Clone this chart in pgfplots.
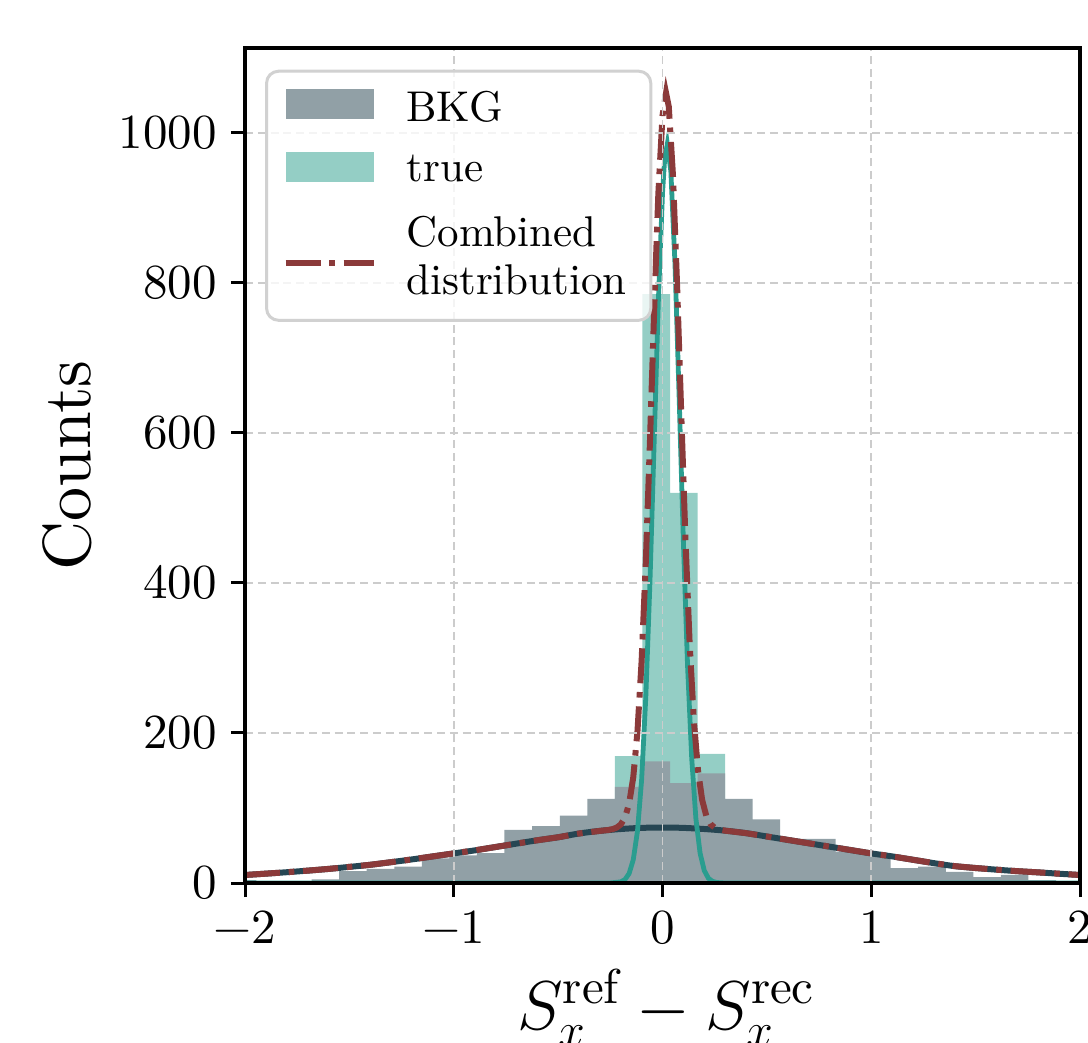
\documentclass[border=0pt]{standalone}
\usepackage{fontspec}
\setmainfont{lmroman10-regular}[Extension=.otf, BoldFont=lmroman10-bold, ItalicFont=lmroman10-italic]
\usepackage{pgfplots}
\pgfplotsset{compat=1.18}
\definecolor{bkg}{RGB}{145,160,166}
\definecolor{truebar}{RGB}{148,206,197}
\definecolor{tealline}{RGB}{42,157,143}
\definecolor{darkline}{RGB}{38,70,83}
\definecolor{redline}{RGB}{139,58,58}
\begin{document}
\begin{tikzpicture}
\begin{axis}[
  name=ax,
  width=208.75pt, height=208.75pt, scale only axis,
  xmin=-2, xmax=2, ymin=0, ymax=1113,
  xtick={-2,-1,0,1,2}, ytick={0,200,400,600,800,1000},
  xticklabels={−2,−1,0,1,2},
  yticklabels={0,200,400,600,800,1000},
  xtick pos=bottom, ytick pos=left,
  tick align=outside, major tick length=3.5pt,
  tick style={black, line width=0.75pt},
  axis line style={line width=0.9pt},
  grid=major,
  major grid style={dashed, dash pattern=on 2pt off 1.2pt, gray!40, line width=0.4pt},
  axis on top,
  ticklabel style={font=\fontsize{12.25}{14}\selectfont},
  xlabel={$S_x^{\mathrm{ref}} - S_x^{\mathrm{rec}}$},
  ylabel={Counts},
  every axis x label/.style={at={(axis description cs:0.5,0)}, anchor=base, yshift=-36.5pt, xshift=1pt, font=\fontsize{17.5}{20}\selectfont},
  every axis y label/.style={at={(axis description cs:-0.2132,0.5)}, anchor=center, rotate=90, font=\fontsize{17}{20}\selectfont},
  legend style={at={(axis description cs:0.024,0.974)}, anchor=north west,
    draw=black!18, line width=0.75pt, rounded corners=3pt,
    fill=white, fill opacity=0.8, text opacity=1, draw opacity=1,
    font=\fontsize{10.75}{11.5}\selectfont,
    cells={anchor=west, align=left},
    row sep=3pt, column sep=5.5pt, inner xsep=4pt, inner ysep=3pt},
  legend cell align=left,
]
% true histogram (drawn first)
\addplot[ybar interval, fill=truebar, draw=none, forget plot] coordinates {
(-0.360,40) (-0.228,169) (-0.096,785) (0.036,520) (0.168,172) (0.300,40) (0.432,40)
};
% BKG histogram
\addplot[ybar interval, fill=bkg, draw=none, forget plot] coordinates {
(-2.078,4) (-1.946,1) (-1.813,1) (-1.681,5) (-1.549,16) (-1.417,19) (-1.285,22)
(-1.153,33) (-1.021,37) (-0.889,40) (-0.757,71) (-0.624,76) (-0.492,90)
(-0.360,112) (-0.228,128) (-0.096,162) (0.036,133) (0.168,146) (0.300,112)
(0.432,85) (0.564,59) (0.697,59) (0.829,42) (0.961,38) (1.093,20) (1.225,22)
(1.357,15) (1.489,8) (1.621,11) (1.753,4) (1.885,2) (2.018,2)
};
% background fit
\addplot[darkline, line width=1.5pt, smooth, forget plot] coordinates {
(-2,10.7)(-1.9,12.5)(-1.8,14.4)(-1.7,16.5)(-1.6,18.8)(-1.5,21.5)(-1.4,24.3)(-1.3,27.8)
(-1.2,31.5)(-1.1,35.5)(-1.0,39.5)(-0.9,43.5)(-0.8,48)(-0.7,52.5)(-0.6,57)(-0.5,61)
(-0.4,66)(-0.3,69.5)(-0.2,72)(-0.1,73.5)(0,74)(0.1,73.5)(0.2,72)(0.3,69.8)(0.4,66.5)
(0.5,62)(0.6,57.5)(0.7,53)(0.8,48.5)(0.9,44)(1.0,39.5)(1.1,35.5)(1.2,31)(1.3,26.5)
(1.4,22.5)(1.5,20)(1.6,17.8)(1.7,15.8)(1.8,14.2)(1.9,12.4)(2.0,10.7)
};
% true fit
\addplot[tealline, line width=1.2pt, forget plot] coordinates {
(-2,0)(-0.3,0)(-0.25,0.1)(-0.2,1.5)(-0.18,4.6)(-0.16,12.6)(-0.14,31.1)(-0.12,68.9)
(-0.10,137.6)(-0.08,247.8)(-0.06,402.1)(-0.04,587.7)(-0.02,774.5)(0,919.5)(0.01,963.6)
(0.023,985)(0.04,948.7)(0.06,824.3)(0.08,645.5)(0.10,455.6)(0.12,289.7)(0.14,166.0)
(0.16,85.8)(0.18,39.9)(0.20,16.7)(0.22,6.3)(0.24,2.2)(0.26,0.7)(0.3,0)(2,0)
};
% combined
\addplot[redline, line width=1.5pt, dash pattern=on 8.75pt off 2.2pt on 1.4pt off 2.2pt, forget plot] coordinates {
(-2,10.7)(-1.9,12.5)(-1.8,14.4)(-1.7,16.5)(-1.6,18.8)(-1.5,21.5)(-1.4,24.3)(-1.3,27.8)
(-1.2,31.5)(-1.1,35.5)(-1.0,39.5)(-0.9,43.5)(-0.8,48)(-0.7,52.5)(-0.6,57)(-0.5,61)
(-0.4,66)(-0.3,69.5)(-0.26,70.7)(-0.24,71.8)(-0.22,73.8)(-0.20,78.0)(-0.18,87.0)
(-0.16,105.7)(-0.14,141.0)(-0.12,201.8)(-0.10,296.3)(-0.08,427.5)(-0.06,589.3)
(-0.04,762.8)(-0.02,918.2)(0,1022.9)(0.017,1053)(0.03,1035.2)(0.05,944.0)(0.07,796.2)
(0.09,623.7)(0.11,457.7)(0.13,319.2)(0.15,217.4)(0.17,150.2)(0.19,110.7)(0.21,89.3)
(0.23,78.5)(0.25,73.7)(0.27,71.4)(0.3,69.8)(0.4,66.5)(0.5,62)(0.6,57.5)(0.7,53)
(0.8,48.5)(0.9,44)(1.0,39.5)(1.1,35.5)(1.2,31)(1.3,26.5)(1.4,22.5)(1.5,20)(1.6,17.8)
(1.7,15.8)(1.8,14.2)(1.9,12.4)(2.0,10.7)
};
\addlegendimage{legend image code/.code={\fill[bkg, fill opacity=1, draw=none, sharp corners] (0pt,-2.5pt) rectangle (22pt,5pt);}}
\addlegendentry{BKG}
\addlegendimage{legend image code/.code={\fill[truebar, fill opacity=1, draw=none, sharp corners] (0pt,-2.5pt) rectangle (22pt,5pt);}}
\addlegendentry{true}
\addlegendimage{legend image code/.code={\draw[redline, sharp corners, line width=1.5pt, dash pattern=on 8.75pt off 2.2pt on 1.4pt off 2.2pt] (0pt,-1.25pt) -- (22pt,-1.25pt);}}
\addlegendentry{Combined\\[0.5pt]distribution}
\end{axis}
\pgfresetboundingbox
\path[use as bounding box] ([xshift=-61.25pt,yshift=-39.75pt]ax.south west) rectangle ([xshift=2pt,yshift=12pt]ax.north east);
\end{tikzpicture}
\end{document}
